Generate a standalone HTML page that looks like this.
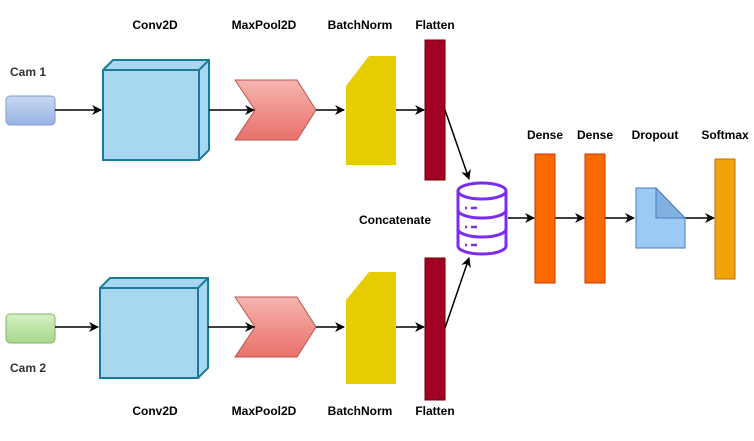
<!DOCTYPE html>
<html><head><style>body{margin:0;background:#fff}</style></head><body>
<svg width="754" height="436" viewBox="0 0 754 436" xmlns="http://www.w3.org/2000/svg" font-family="Liberation Sans, sans-serif" font-weight="bold" font-size="12">
<defs>
<marker id="a" markerWidth="10" markerHeight="10" refX="9" refY="5" orient="auto" markerUnits="userSpaceOnUse"><path d="M0,0 L10,5 L0,10 L3,5z" fill="#000"/></marker>
<linearGradient id="c1" x1="0" y1="0" x2="0" y2="1"><stop offset="0" stop-color="#c9d8f2"/><stop offset="1" stop-color="#97b2e3"/></linearGradient>
<linearGradient id="c2" x1="0" y1="0" x2="0" y2="1"><stop offset="0" stop-color="#d6f0c4"/><stop offset="1" stop-color="#a6d88a"/></linearGradient>
<linearGradient id="pk" x1="0" y1="0" x2="0" y2="1"><stop offset="0" stop-color="#f6b5b0"/><stop offset="1" stop-color="#e9706a"/></linearGradient>
</defs>
<g fill="#333">
<text x="10" y="76">Cam 1</text><text x="10" y="372" >Cam 2</text>
</g>
<g fill="#000" text-anchor="middle">
<text x="155" y="29">Conv2D</text><text x="264" y="29">MaxPool2D</text><text x="360" y="29">BatchNorm</text><text x="435" y="29">Flatten</text>
<text x="155" y="415">Conv2D</text><text x="264" y="415">MaxPool2D</text><text x="360" y="415">BatchNorm</text><text x="435" y="415">Flatten</text>
<text x="545" y="139">Dense</text><text x="595" y="139">Dense</text><text x="655" y="139">Dropout</text><text x="725" y="139">Softmax</text>
<text x="395" y="224">Concatenate</text>
</g>
<!-- branch 1 -->
<rect x="6" y="96" width="49" height="29" rx="4" fill="url(#c1)" stroke="#7f9cc8"/>
<path d="M103,70 L113,60 L209,60 L209,150 L199,160 L103,160Z" fill="#a8d8ef" stroke="#1a7a9c" stroke-width="2"/>
<path d="M103,70 L199,70 L209,60 M199,70 L199,160" fill="none" stroke="#1a7a9c" stroke-width="2"/>
<path d="M235,80 L297,80 L316,110 L297,140 L235,140 L255,110Z" fill="url(#pk)" stroke="#b85450"/>
<path d="M346,86 L369,56 L396,56 L396,165 L346,165Z" fill="#e6cc00"/>
<rect x="425" y="40" width="20" height="140" fill="#a20025" stroke="#6f0000"/>
<g stroke="#000" stroke-width="1.5" marker-end="url(#a)">
<line x1="55" y1="110" x2="101" y2="110"/><line x1="209" y1="110" x2="254" y2="110"/><line x1="316" y1="110" x2="344" y2="110"/><line x1="396" y1="110" x2="424" y2="110"/>
</g>
<!-- branch 2 -->
<rect x="6" y="314" width="49" height="29" rx="4" fill="url(#c2)" stroke="#82b366"/>
<path d="M100,288 L110,278 L208,278 L208,368 L198,378 L100,378Z" fill="#a8d8ef" stroke="#1a7a9c" stroke-width="2"/>
<path d="M100,288 L198,288 L208,278 M198,288 L198,378" fill="none" stroke="#1a7a9c" stroke-width="2"/>
<path d="M235,297 L297,297 L316,327 L297,357 L235,357 L255,327Z" fill="url(#pk)" stroke="#b85450"/>
<path d="M346,300 L369,272 L396,272 L396,384 L346,384Z" fill="#e6cc00"/>
<rect x="425" y="258" width="20" height="142" fill="#a20025" stroke="#6f0000"/>
<g stroke="#000" stroke-width="1.5" marker-end="url(#a)">
<line x1="55" y1="327" x2="98" y2="327"/><line x1="208" y1="327" x2="254" y2="327"/><line x1="316" y1="327" x2="344" y2="327"/><line x1="396" y1="327" x2="424" y2="327"/>
<line x1="445" y1="110" x2="469" y2="179"/><line x1="445" y1="328" x2="469" y2="258"/>
<line x1="508" y1="218" x2="534" y2="218"/><line x1="555" y1="218" x2="584" y2="218"/><line x1="605" y1="218" x2="634" y2="218"/><line x1="685" y1="218" x2="714" y2="218"/>
</g>
<!-- database -->
<g fill="none" stroke="#7a2cf0" stroke-width="3">
<ellipse cx="482" cy="191" rx="24" ry="8"/>
<path d="M458,191 V246 A24,8 0 0 0 506,246 V191"/>
<path d="M458,210 A24,8 0 0 0 506,210 M458,229 A24,8 0 0 0 506,229"/>
<path d="M465,208 h2 M471,208 h6 M465,227 h2 M471,227 h6 M465,245 h2 M471,245 h6" stroke-width="2.5"/>
</g>
<rect x="535" y="154" width="20" height="129" fill="#fa6800" stroke="#c73500"/>
<rect x="585" y="154" width="20" height="129" fill="#fa6800" stroke="#c73500"/>
<path d="M636,188 L656,188 L685,218 L685,248 L636,248Z" fill="#9ccaf5" stroke="#4a7bbd"/>
<path d="M656,188 L656,218 L685,218Z" fill="#82b0e0" stroke="#4a7bbd"/>
<rect x="715" y="159" width="20" height="120" fill="#f0a30a" stroke="#bd7000"/>
</svg>
</body></html>
